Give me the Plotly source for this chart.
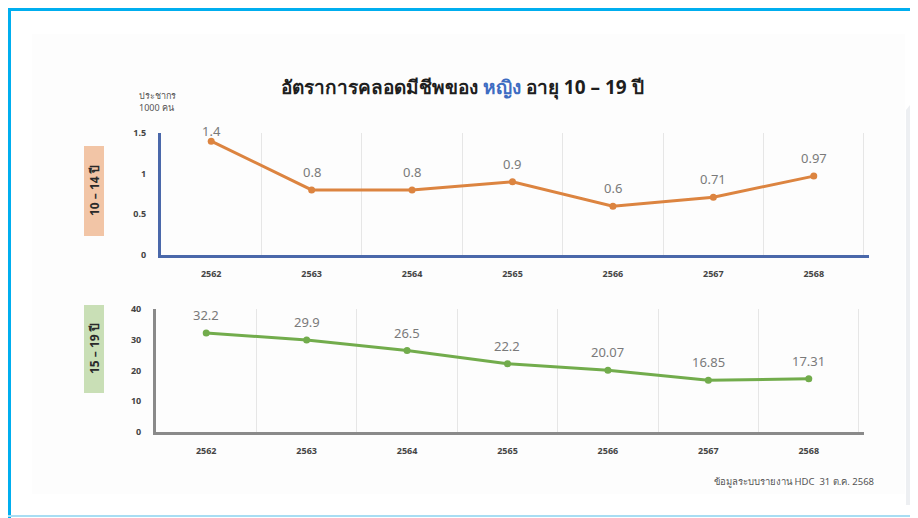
import plotly.graph_objects as go

# ปี พ.ศ.
years = ["2562", "2563", "2564", "2565", "2566", "2567", "2568"]

# อัตราการคลอดมีชีพต่อประชากรหญิง 1000 คน
rate_10_14 = [1.4, 0.8, 0.8, 0.9, 0.6, 0.71, 0.97]
rate_15_19 = [32.2, 29.9, 26.5, 22.2, 20.07, 16.85, 17.31]

labels_10_14 = ["1.4", "0.8", "0.8", "0.9", "0.6", "0.71", "0.97"]
labels_15_19 = ["32.2", "29.9", "26.5", "22.2", "20.07", "16.85", "17.31"]

ticks_10_14 = [0, 0.5, 1, 1.5]
ticks_15_19 = [0, 10, 20, 30, 40]

W, H = 918, 518
OFF = 8  # หน้า html มี margin ของ body 8px
FONT = "Noto Sans, DejaVu Sans, sans-serif"

ORANGE = "#DC8440"
GREEN = "#72AC4C"
BLUE_AXIS = "#4A68AA"
GRAY_AXIS = "#8A8A8A"
LABEL_GRAY = "#7A7A7A"


def px(x):
    return (x - OFF) / W


def py(y):
    return 1 - (y - OFF) / H


fig = go.Figure()

fig.add_trace(
    go.Scatter(
        x = years, y = rate_10_14, mode = "lines+markers",
        line = dict( color = ORANGE, width = 3 ),
        marker = dict( color = ORANGE, size = 7 ),
        xaxis = "x", yaxis = "y", hoverinfo = "skip",
    )
)
fig.add_trace(
    go.Scatter(
        x = years, y = rate_15_19, mode = "lines+markers",
        line = dict( color = GREEN, width = 3 ),
        marker = dict( color = GREEN, size = 7 ),
        xaxis = "x2", yaxis = "y2", hoverinfo = "skip",
    )
)


def add_value_labels(values, labels, xref, yref, ymax, plot_h):
    # ป้ายค่าเหนือจุด ไม่ให้ล้นขอบบนของกราฟ
    for i, ( v, t ) in enumerate( zip( values, labels ) ):
        room = (ymax - v) / ymax * plot_h + 2
        fig.add_annotation( x = i, y = v, xref = xref, yref = yref, text = t,
                            showarrow = False, yshift = min( 18, room ),
                            xanchor = "center", yanchor = "middle",
                            font = dict( size = 13, color = LABEL_GRAY, family = FONT ) )


add_value_labels( rate_10_14, labels_10_14, "x", "y", 1.5, 122 )
add_value_labels( rate_15_19, labels_15_19, "x2", "y2", 40, 123 )

tick_font = dict( size = 9, color = "#444444", family = FONT, weight = "bold" )

axis_common = dict(
    type = "category", showgrid = True, gridcolor = "#E6E6E6", gridwidth = 1,
    tickson = "boundaries", ticks = "", ticklabelstandoff = 8, tickfont = tick_font,
    zeroline = False, showline = True, linewidth = 3, fixedrange = True,
    automargin = False,
)
yaxis_common = dict(
    showgrid = False, zeroline = False, showline = True, linewidth = 3,
    ticks = "", ticklabelstandoff = 10, fixedrange = True, tickfont = tick_font,
    automargin = False,
)

fig.update_layout(
    width = W, height = H, autosize = False,
    margin = dict( l = 0, r = 0, t = 0, b = 0, pad = 0 ),
    paper_bgcolor = "white", plot_bgcolor = "rgba(0,0,0,0)",
    showlegend = False,
    font = dict( family = FONT ),
    xaxis = dict( axis_common, domain = [ px( 161 ), px( 869 ) ], anchor = "y",
                  linecolor = BLUE_AXIS, range = [ -0.5, 6.55 ] ),
    yaxis = dict( yaxis_common, domain = [ py( 255 ), py( 133 ) ], anchor = "x",
                  range = [ 0, 1.5 ], tickvals = ticks_10_14, linecolor = BLUE_AXIS ),
    xaxis2 = dict( axis_common, domain = [ px( 156 ), px( 864 ) ], anchor = "y2",
                   linecolor = GRAY_AXIS, range = [ -0.5, 6.55 ] ),
    yaxis2 = dict( yaxis_common, domain = [ py( 432 ), py( 309 ) ], anchor = "x2",
                   range = [ 0, 40 ], tickvals = ticks_15_19, linecolor = GRAY_AXIS ),
)

# กรอบหน้า / ตกแต่ง
shapes = [
    dict( type = "rect", xref = "paper", yref = "paper", x0 = px( 32 ), x1 = px( 905 ),
          y0 = py( 494 ), y1 = py( 34 ), fillcolor = "#FDFDFD", line_width = 0, layer = "below" ),
    dict( type = "path", xref = "paper", yref = "paper",
          path = f"M {px(906)},{py(505)} L {px(906)},{py(110)} L {px(918)},{py(95)} L {px(918)},{py(505)} Z",
          fillcolor = "#EDEFF2", line_width = 0, layer = "below" ),
    dict( type = "line", xref = "paper", yref = "paper", x0 = 0, x1 = 1,
          y0 = py( 9.5 ), y1 = py( 9.5 ), line = dict( color = "#00AEEF", width = 3 ) ),
    dict( type = "line", xref = "paper", yref = "paper", x0 = px( 9.5 ), x1 = px( 9.5 ),
          y0 = py( 8 ), y1 = 0, line = dict( color = "#00AEEF", width = 3 ) ),
    dict( type = "line", xref = "paper", yref = "paper", x0 = 0, x1 = 1,
          y0 = py( 516 ), y1 = py( 516 ), line = dict( color = "#A8DDF3", width = 2 ) ),
    dict( type = "rect", xref = "paper", yref = "paper", x0 = px( 84 ), x1 = px( 104 ),
          y0 = py( 236 ), y1 = py( 146 ), fillcolor = "#F2C5A6", line_width = 0 ),
    dict( type = "rect", xref = "paper", yref = "paper", x0 = px( 84 ), x1 = px( 104 ),
          y0 = py( 393 ), y1 = py( 305 ), fillcolor = "#C9DFB6", line_width = 0 ),
]
fig.update_layout( shapes = shapes )

annotations = [
    dict( text = "<b>อัตราการคลอดมีชีพของ <span style='color:#3D6CC2'>หญิง</span> อายุ 10 – 19 ปี</b>",
          x = px( 462 ), y = py( 87 ), font = dict( size = 19, color = "#1E1E1E", family = FONT ) ),
    dict( text = "ประชากร<br>1000 คน", x = px( 137 ), y = py( 102 ), xanchor = "left",
          align = "left", font = dict( size = 9, color = "#555555", family = FONT ) ),
    dict( text = "<b>10 – 14 ปี</b>", x = px( 94 ), y = py( 191 ), textangle = -90,
          font = dict( size = 12, color = "#2A2A2A", family = FONT ) ),
    dict( text = "<b>15 – 19 ปี</b>", x = px( 94 ), y = py( 349 ), textangle = -90,
          font = dict( size = 12, color = "#2A2A2A", family = FONT ) ),
    dict( text = "ข้อมูลระบบรายงาน HDC  31 ต.ค. 2568", x = px( 876 ), y = py( 481 ),
          xanchor = "right", font = dict( size = 9.5, color = "#555555", family = FONT ) ),
]
for a in annotations:
    a.setdefault( "xanchor", "center" )
    fig.add_annotation( dict( xref = "paper", yref = "paper", showarrow = False,
                              yanchor = "middle", **a ) )

fig.write_html( "out.html" )
